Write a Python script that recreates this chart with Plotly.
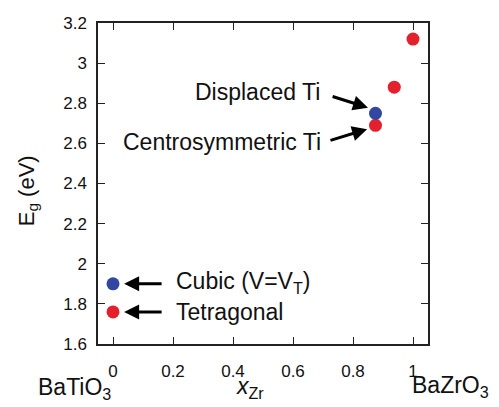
import plotly.graph_objects as go

# Data
red_x = [0.0, 0.875, 0.9375, 1.0]
red_y = [1.76, 2.69, 2.88, 3.12]
blue_x = [0.0, 0.875]
blue_y = [1.90, 2.75]
x_ticks = [0, 0.2, 0.4, 0.6, 0.8, 1]
x_tick_labels = ["0", "0.2", "0.4", "0.6", "0.8", "1"]
y_ticks = [1.6, 1.8, 2.0, 2.2, 2.4, 2.6, 2.8, 3.0, 3.2]
y_tick_labels = ["1.6", "1.8", "2", "2.2", "2.4", "2.6", "2.8", "3", "3.2"]

RED = "#e3202b"
BLUE = "#3346a2"
FONT = "Liberation Sans, Arial, Helvetica, sans-serif"

fig = go.Figure()
fig.add_trace(go.Scatter(x=red_x, y=red_y, mode="markers",
                         marker=dict(color=RED, size=13, line=dict(width=0)),
                         showlegend=False, hoverinfo="skip"))
fig.add_trace(go.Scatter(x=blue_x, y=blue_y, mode="markers",
                         marker=dict(color=BLUE, size=13, line=dict(width=0)),
                         showlegend=False, hoverinfo="skip"))

axis_common = dict(showline=True, linecolor="#222", linewidth=1.5, mirror="allticks",
                   ticks="inside", ticklen=7, tickwidth=1.2, tickcolor="#222",
                   showgrid=False, zeroline=False, ticklabeloverflow="allow",
                   tickfont=dict(family=FONT, size=17, color="#111"))

fig.update_xaxes(range=[-0.05, 1.05], tickvals=x_ticks, ticktext=x_tick_labels,
                 ticklabelstandoff=11, **axis_common)
fig.update_yaxes(range=[1.6, 3.2], tickvals=y_ticks, ticktext=y_tick_labels,
                 ticklabelstandoff=6, **axis_common)

ann = []
def arrow(hx, hy, tx, ty):
    ann.append(dict(x=hx, y=hy, ax=tx, ay=ty, xref="x", yref="y", axref="x", ayref="y",
                    text="", showarrow=True, arrowhead=2, arrowsize=1.0, arrowwidth=3,
                    arrowcolor="black", standoff=0, startstandoff=0))

arrow(0.037, 1.90, 0.167, 1.90)
arrow(0.037, 1.76, 0.167, 1.76)
arrow(0.85, 2.778, 0.727, 2.836)
arrow(0.847, 2.671, 0.72, 2.613)

def label(text, x, y, xanchor, size=23, xref="x", yref="y", textangle=0):
    ann.append(dict(x=x, y=y, xref=xref, yref=yref, text=text, showarrow=False,
                    xanchor=xanchor, yanchor="middle", textangle=textangle,
                    font=dict(family=FONT, size=size, color="#111")))

label("Cubic (V=V<sub>T</sub>)", 0.203, 1.905, "left")
label("Tetragonal", 0.203, 1.76, "left")
label("Displaced Ti", 0.697, 2.855, "right")
label("Centrosymmetric Ti", 0.70, 2.605, "right")

label("E<sub>g</sub> (eV)", -0.212, 0.476, "center", size=22, xref="paper", yref="paper", textangle=-90)
label("<i>x</i><sub>Zr</sub>", 0.46, -0.136, "center", size=23, xref="paper", yref="paper")
label("BaTiO<sub>3</sub>", -0.07, -0.14, "center", size=23, xref="paper", yref="paper")
label("BaZrO<sub>3</sub>", 1.067, -0.132, "center", size=23, xref="paper", yref="paper")

# page body has an 8px default margin; offset figure margins to compensate
fig.update_layout(width=499, height=407, margin=dict(l=90, r=79, t=6, b=71),
                  plot_bgcolor="white", paper_bgcolor="white",
                  annotations=ann, font=dict(family=FONT))

fig.write_html("out.html")
